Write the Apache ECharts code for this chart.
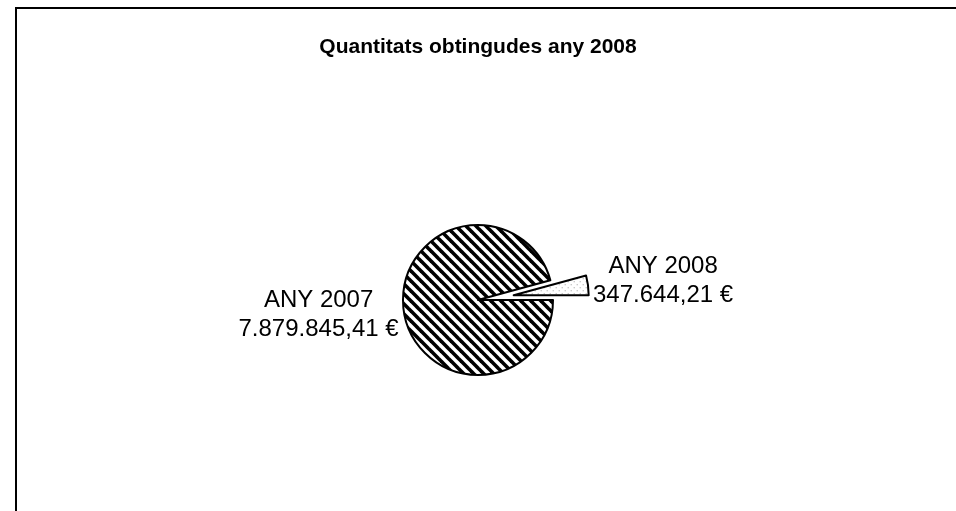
<!DOCTYPE html>
<html>
<head>
<meta charset="utf-8">
<script src="https://cdn.jsdelivr.net/npm/echarts@6/dist/echarts.min.js"></script>
<style>
html,body{margin:0;padding:0;background:#fff;}
#chart{width:956px;height:511px;}
</style>
</head>
<body>
<div id="chart"></div>
<script>
const titleText = 'Quantitats obtingudes any 2008';
const categories = ['ANY 2007', 'ANY 2008'];
const values = [7879845.41, 347644.21];
const explodedCategory = 'ANY 2008';

function fmtEuro(v) {
  const parts = v.toFixed(2).split('.');
  const intPart = parts[0].replace(/\B(?=(\d{3})+(?!\d))/g, '.');
  return intPart + ',' + parts[1] + ' €';
}

function stripePattern() {
  const s = 10;
  const c = document.createElement('canvas');
  c.width = s; c.height = s;
  const ctx = c.getContext('2d');
  ctx.fillStyle = '#fff';
  ctx.fillRect(0, 0, s, s);
  ctx.strokeStyle = '#000';
  ctx.lineWidth = 3.6;
  for (let k = -1; k <= 1; k++) {
    ctx.beginPath();
    ctx.moveTo(k * s - 2, -2);
    ctx.lineTo(k * s + s + 2, s + 2);
    ctx.stroke();
  }
  return c;
}
function dotPattern() {
  const c = document.createElement('canvas');
  c.width = 6; c.height = 6;
  const ctx = c.getContext('2d');
  ctx.fillStyle = '#fff';
  ctx.fillRect(0, 0, 6, 6);
  ctx.fillStyle = '#9a9a9a';
  ctx.fillRect(1, 1, 1, 1);
  ctx.fillRect(4, 4, 1, 1);
  return c;
}
const fills = [
  { image: stripePattern(), repeat: 'repeat' },
  { image: dotPattern(), repeat: 'repeat' }
];

const chart = echarts.init(document.getElementById('chart'), null, { renderer: 'canvas' });
const data = categories.map((name, i) => {
  const style = { color: fills[i], borderColor: '#000', borderWidth: 2 };
  return {
    name: name,
    value: values[i],
    selected: name === explodedCategory,
    itemStyle: style,
    select: { itemStyle: style },
    emphasis: { itemStyle: style }
  };
});

chart.setOption({
  animation: false,
  backgroundColor: '#fff',
  title: {
    text: titleText,
    left: 'center',
    top: 32,
    textStyle: { fontFamily: '"Liberation Sans", Arial, sans-serif', fontSize: 21, fontWeight: 'bold', color: '#000' }
  },
  graphic: [{
    type: 'rect',
    shape: { x: 16, y: 8, width: 1000, height: 1000 },
    style: { fill: 'none', stroke: '#000', lineWidth: 2 },
    silent: true
  }],
  series: [{
    type: 'pie',
    center: [478, 300],
    radius: 75,
    startAngle: 0,
    clockwise: true,
    selectedMode: 'single',
    selectedOffset: 36,
    avoidLabelOverlap: false,
    label: {
      show: true,
      position: 'outside',
      distanceToLabelLine: 5,
      formatter: p => '{c|' + p.name + '}\n{c|' + fmtEuro(p.value) + '}',
      rich: {
        c: { align: 'center', fontFamily: '"Liberation Sans", Arial, sans-serif', fontSize: 24, lineHeight: 29, color: '#000' }
      }
    },
    labelLine: { show: false, length: 0, length2: 0 },
    labelLayout: p => ({ dy: p.dataIndex === 0 ? 5 : -4 }),
    emphasis: { scale: false, label: { show: true } },
    data: data
  }]
});
</script>
</body>
</html>
